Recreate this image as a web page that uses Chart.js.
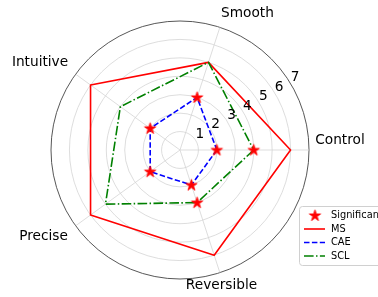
<!DOCTYPE html>
<html><head><meta charset="utf-8">
<script src="https://cdn.jsdelivr.net/npm/chart.js@4/dist/chart.umd.min.js"></script>
<style>html,body{margin:0;padding:0;background:#fff;overflow:hidden}#wrap{width:378px;height:297px;position:relative}</style>
</head><body><div id="wrap"><canvas id="c" width="378" height="297"></canvas></div>
<script>
// ---- data ----
const categories = ['Control', 'Smooth', 'Intuitive', 'Precise', 'Reversible'];
const msValues = [6, 5, 6, 6, 6];
const caeValues = [2, 3, 2, 2, 2];
const sclValues = [4, 5, 4, 5, 3];
const caeSignificant = [2, 3, 2, 2, 2];
const sclSignificant = [4, null, null, null, 3];
const tickValues = [1, 2, 3, 4, 5, 6, 7];
const seriesNames = ['Significant', 'MS', 'CAE', 'SCL'];

// counter-clockwise order starting at the right (Chart.js runs clockwise)
const displayOrder = [0, 4, 3, 2, 1];
const re = a => displayOrder.map(i => a[i]);

function makeStar(rOuter) {
  const s = Math.ceil(rOuter * 2 + 3);
  const c = document.createElement('canvas');
  c.width = s; c.height = s;
  const g = c.getContext('2d');
  const cx = s / 2, cy = s / 2 + rOuter * 0.05, rIn = rOuter * 0.382;
  g.beginPath();
  for (let k = 0; k < 10; k++) {
    const r = k % 2 ? rIn : rOuter;
    const a = -Math.PI / 2 + k * Math.PI / 5;
    const x = cx + r * Math.cos(a), y = cy + r * Math.sin(a);
    k ? g.lineTo(x, y) : g.moveTo(x, y);
  }
  g.closePath();
  g.fillStyle = '#ff0000'; g.fill();
  g.lineWidth = 0.8; g.strokeStyle = '#ff0000'; g.stroke();
  return c;
}
const star = makeStar(6);

const styles = {
  MS: { color: '#ff0000', dash: [] },
  CAE: { color: '#0000ff', dash: [5.5, 2.4] },
  SCL: { color: '#008000', dash: [9.6, 2.4, 1.5, 2.4] }
};

function lineSet(name, values) {
  return {
    label: name, data: re(values), borderColor: styles[name].color,
    borderDash: styles[name].dash, borderWidth: 1.6, fill: false,
    pointRadius: 0, pointHoverRadius: 0, borderJoinStyle: 'round', tension: 0
  };
}
function starSet(values) {
  return {
    label: seriesNames[0], data: re(values), showLine: false, fill: false,
    borderWidth: 0, pointStyle: star, pointRadius: 6, pointHoverRadius: 6,
    borderColor: 'rgba(0,0,0,0)', backgroundColor: 'rgba(0,0,0,0)'
  };
}

// label centres relative to the scale centre
const labelOffsets = [[160, -10], [67.5, -137], [-140, -87.5], [-136.5, 86], [41.5, 135.5]];

const overlay = {
  id: 'overlay',
  afterDraw(chart) {
    const sc = chart.scales.r, ctx = chart.ctx;
    ctx.save();
    ctx.fillStyle = '#000';
    ctx.font = '13.7px "DejaVu Sans"';
    ctx.textAlign = 'center';
    ctx.textBaseline = 'middle';
    const ang = 30.6 * Math.PI / 180;
    tickValues.forEach(v => {
      const d = sc.getDistanceFromCenterForValue(v);
      ctx.fillText(String(v), sc.xCenter + 4 + d * Math.cos(ang), sc.yCenter - 6.5 - d * Math.sin(ang));
    });
    categories.forEach((name, i) => {
      const o = labelOffsets[i];
      ctx.fillText(name, sc.xCenter + o[0], sc.yCenter + o[1]);
    });
    // legend
    ctx.beginPath();
    ctx.roundRect(299.5, 206.5, 100, 59, 3);
    ctx.fillStyle = 'rgba(255,255,255,0.85)';
    ctx.fill();
    ctx.strokeStyle = '#d0d0d0'; ctx.lineWidth = 1; ctx.stroke();
    ctx.font = '9.8px "DejaVu Sans"';
    ctx.textAlign = 'left';
    seriesNames.forEach((name, i) => {
      const y = 215.5 + i * 13.5;
      if (i === 0) {
        ctx.drawImage(star, 315 - star.width / 2, y - star.height / 2);
      } else {
        const st = styles[name];
        ctx.beginPath();
        ctx.setLineDash(st.dash);
        ctx.strokeStyle = st.color; ctx.lineWidth = 1.6;
        ctx.moveTo(304, y); ctx.lineTo(325, y); ctx.stroke();
        ctx.setLineDash([]);
      }
      ctx.fillStyle = '#000';
      ctx.fillText(name, 331, y);
    });
    ctx.restore();
  }
};

new Chart(document.getElementById('c'), {
  type: 'radar',
  data: {
    labels: re(categories),
    datasets: [starSet(caeSignificant), starSet(sclSignificant),
      lineSet('SCL', sclValues), lineSet('CAE', caeValues), lineSet('MS', msValues)]
  },
  options: {
    responsive: false, animation: false, devicePixelRatio: 1,
    layout: { padding: { left: 51, right: 69, top: 21, bottom: 18 } },
    plugins: { legend: { display: false }, tooltip: { enabled: false }, title: { display: false } },
    elements: { line: { tension: 0 } },
    scales: {
      r: {
        min: 0, max: 7, startAngle: 90,
        ticks: { stepSize: 1, display: false },
        pointLabels: { display: false },
        grid: {
          circular: true,
          color: c => (c.tick && c.tick.value === 7) ? '#444444' : '#d4d4d4',
          lineWidth: c => (c.tick && c.tick.value === 7) ? 0.9 : 0.8
        },
        angleLines: { color: '#d4d4d4', lineWidth: 0.8 }
      }
    }
  },
  plugins: [overlay]
});
</script></body></html>
